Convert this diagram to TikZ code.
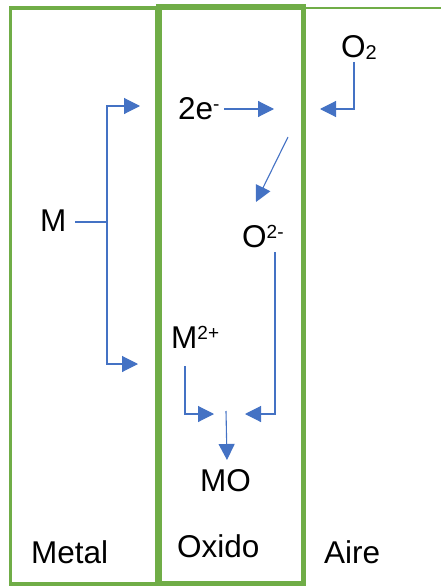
\documentclass[tikz,border=0pt]{standalone}
\usepackage{fontspec}
\setmainfont{Liberation Sans}
\usetikzlibrary{arrows.meta}
\definecolor{offgreen}{HTML}{70AD47}
\definecolor{offblue}{HTML}{4472C4}
\newcommand{\supx}[1]{\raisebox{9pt}{\fontsize{19}{19}\selectfont #1}}
\newcommand{\subx}[1]{\raisebox{-1.5pt}{\fontsize{20}{20}\selectfont #1}}
\begin{document}
\begin{tikzpicture}[x=1pt,y=-1pt,
  lbl/.style={inner sep=0pt,anchor=base west,font=\fontsize{31.5}{37}\selectfont},
  arr/.style={draw=offblue,line width=1.1pt,-{Triangle[length=16pt,width=16pt]}},
  conn/.style={draw=offblue,line width=1.1pt},
  metalbox/.style={draw=offgreen,line width=3.5pt},
  oxbox/.style={draw=offgreen,line width=5.5pt},
  airline/.style={draw=offgreen,line width=2.5pt}]
\useasboundingbox (0,0) rectangle (441,586);
% boxes
\draw[metalbox] (10.5,8) rectangle (157,584);
\draw[airline] (303.5,8) -- (450,8);
\draw[oxbox] (159,7) rectangle (303.5,584);
% labels
\node[lbl] (M) at (40,231) {M};
\node[lbl] (e2) at (178,119) {2e\supx{-}};
\node[lbl] (O2) at (341,58) {O\subx{2}};
\node[lbl] (Om) at (242,247) {O\supx{2-}};
\node[lbl] (Mp) at (171,348) {M\supx{2+}};
\node[lbl] (MO) at (200,491) {MO};
\node[lbl] (metal) at (31,563) {Metal};
\node[lbl] (oxido) at (177,557) {Oxido};
\node[lbl] (aire) at (324,563) {Aire};
% coordinates
\coordinate (mS) at (75,222);
\coordinate (mJ) at (107,222);
\coordinate (tA) at (140,106);
\coordinate (tB) at (138,364);
\coordinate (eS) at (224,109);
\coordinate (eT) at (274,109);
\coordinate (oS) at (354,62);
\coordinate (oT) at (320,109);
\coordinate (dS) at (288,137);
\coordinate (dT) at (256,202);
\coordinate (omS) at (275,252);
\coordinate (omT) at (245,414);
\coordinate (mpS) at (185,366);
\coordinate (mpT) at (214,414);
\coordinate (moS) at (226,411);
\coordinate (moT) at (227,460);
% arrows
\draw[conn] (mS) -- (mJ);
\draw[arr] (mJ) |- (tA);
\draw[arr] (mJ) |- (tB);
\draw[arr] (eS) -- (eT);
\draw[arr] (oS) |- (oT);
\draw[arr] (dS) -- (dT);
\draw[arr] (omS) |- (omT);
\draw[arr] (mpS) |- (mpT);
\draw[arr] (moS) -- (moT);
\end{tikzpicture}
\end{document}
